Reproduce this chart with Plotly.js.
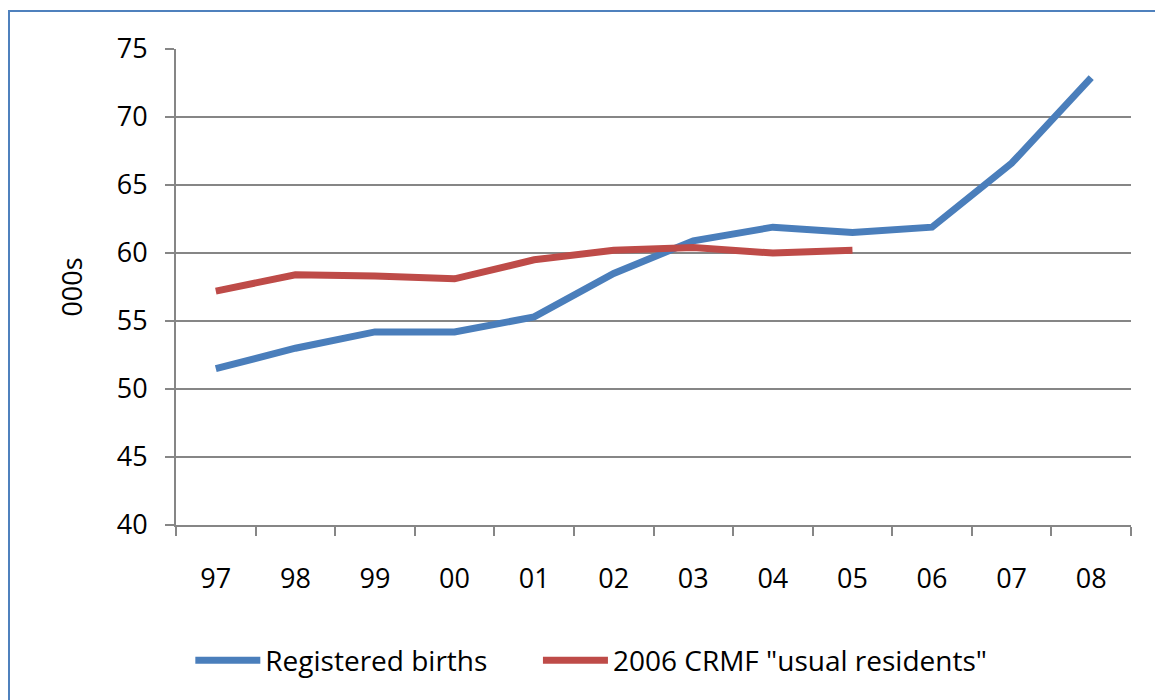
<!DOCTYPE html>
<html>
<head>
<meta charset="utf-8">
<script src="https://cdn.plot.ly/plotly-3.0.1.min.js"></script>
<style>
  html, body { margin: 0; padding: 0; background: #fff; overflow: hidden; }
  #wrap { position: relative; width: 1155px; height: 700px; }
  #frame { position: absolute; left: 8px; top: 10px; width: 1200px; height: 760px;
           border: 2px solid #4f81bd; box-sizing: border-box; pointer-events: none; z-index: 5; }
  #chart { position: absolute; left: 0; top: 0; width: 1155px; height: 700px; }
</style>
</head>
<body>
<div id="wrap">
  <div id="chart"></div>
  <div id="frame"></div>
</div>
<script>
// Years (two-digit labels) and births, in thousands
const years = ['97', '98', '99', '00', '01', '02', '03', '04', '05', '06', '07', '08'];
const registeredBirths = [51.5, 53.0, 54.2, 54.2, 55.3, 58.5, 60.9, 61.9, 61.5, 61.9, 66.6, 72.9];
const crmfYears = ['97', '98', '99', '00', '01', '02', '03', '04', '05'];
const crmfUsualResidents = [57.2, 58.4, 58.3, 58.1, 59.5, 60.2, 60.4, 60.0, 60.2];

const font = "'Open Sans', 'Liberation Sans', sans-serif";
const axisGrey = '#868686';

const traces = [
  {
    x: years, y: registeredBirths, type: 'scatter', mode: 'lines',
    name: 'Registered births', legend: 'legend',
    line: { color: '#4a7ebb', width: 7, shape: 'linear' }
  },
  {
    x: crmfYears, y: crmfUsualResidents, type: 'scatter', mode: 'lines',
    name: '2006 CRMF "usual residents"', legend: 'legend2',
    line: { color: '#be4b48', width: 7, shape: 'linear' }
  }
];

// Two single-entry legends side by side under the plot
const legendStyle = {
  orientation: 'h', xanchor: 'left', y: -0.285, yanchor: 'middle',
  font: { family: font, size: 28, color: '#000' },
  itemwidth: 65, bgcolor: 'rgba(0,0,0,0)'
};

const layout = {
  width: 1155, height: 700,
  margin: { l: 176, r: 24, t: 49, b: 175 },
  paper_bgcolor: 'rgba(0,0,0,0)', plot_bgcolor: '#fff',
  font: { family: font, color: '#000', size: 27 },
  showlegend: true,
  legend: Object.assign({ x: 0.015 }, legendStyle),
  legend2: Object.assign({ x: 0.379 }, legendStyle),
  xaxis: {
    type: 'category', categoryorder: 'array', categoryarray: years,
    range: [-0.5, 11.5],
    showgrid: false, zeroline: false,
    showline: true, linecolor: axisGrey, linewidth: 2,
    ticks: 'outside', tickson: 'boundaries', ticklen: 9, tickwidth: 2, tickcolor: axisGrey,
    ticklabelstandoff: 29,
    tickfont: { family: font, size: 27, color: '#000' },
    fixedrange: true
  },
  yaxis: {
    range: [40, 75], dtick: 5, tick0: 40,
    showgrid: true, gridcolor: axisGrey, gridwidth: 2,
    zeroline: false,
    showline: true, linecolor: axisGrey, linewidth: 2,
    ticks: 'outside', ticklen: 9, tickwidth: 2, tickcolor: axisGrey,
    ticklabelstandoff: 12,
    tickfont: { family: font, size: 27, color: '#000' },
    title: { text: '000s', font: { family: font, size: 27, color: '#000' }, standoff: 26 },
    fixedrange: true
  }
};

Plotly.newPlot('chart', traces, layout, { displayModeBar: false, staticPlot: true });
</script>
</body>
</html>
